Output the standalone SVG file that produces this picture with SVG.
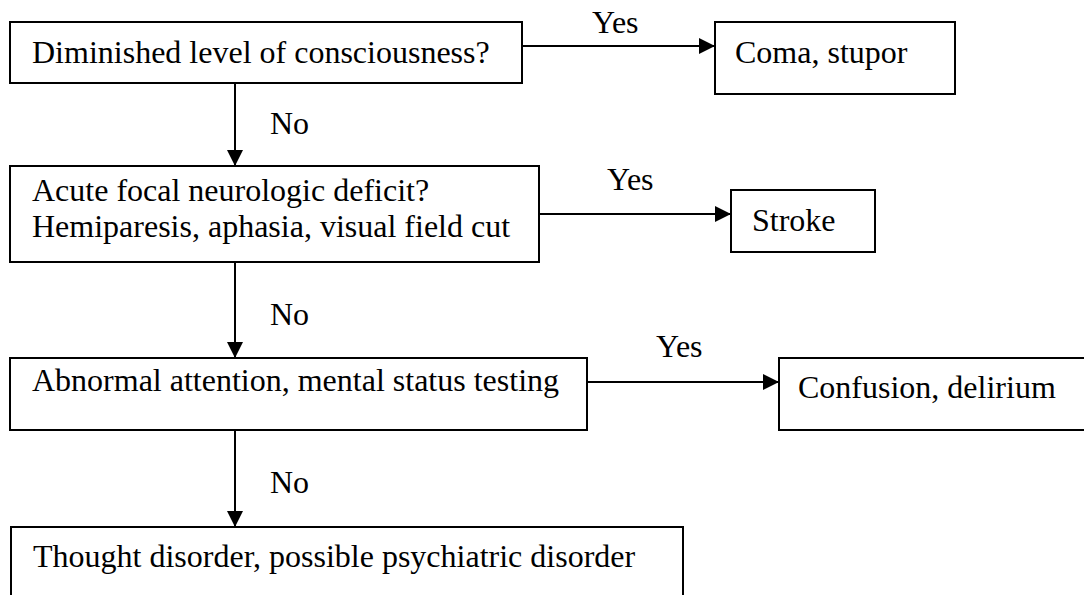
<svg xmlns="http://www.w3.org/2000/svg" width="1084" height="595" viewBox="0 0 1084 595">
<style>
  .box { fill: #ffffff; stroke: #000000; stroke-width: 2; }
  .txt { font-family: "Liberation Serif", "Times New Roman", serif; font-size: 32px; fill: #000000; }
  .conn { stroke: #000000; stroke-width: 2; fill: none; }
</style>
<defs>
  <marker id="arrow" markerUnits="userSpaceOnUse" markerWidth="16" markerHeight="16" refX="16" refY="8" orient="auto">
    <path d="M0,0 L16,8 L0,16 z" fill="#000000"/>
  </marker>
</defs>
<rect width="1084" height="595" fill="#ffffff"/>

<g id="connectors">
  <line class="conn" x1="522" y1="46" x2="715" y2="46" marker-end="url(#arrow)"/>
  <text class="txt" x="592" y="33">Yes</text>
  <line class="conn" x1="235" y1="83" x2="235" y2="166" marker-end="url(#arrow)"/>
  <text class="txt" x="270" y="134">No</text>
  <line class="conn" x1="539" y1="214" x2="731" y2="214" marker-end="url(#arrow)"/>
  <text class="txt" x="607" y="190">Yes</text>
  <line class="conn" x1="235" y1="262" x2="235" y2="358" marker-end="url(#arrow)"/>
  <text class="txt" x="270" y="325">No</text>
  <line class="conn" x1="587" y1="382" x2="779" y2="382" marker-end="url(#arrow)"/>
  <text class="txt" x="656" y="357">Yes</text>
  <line class="conn" x1="235" y1="430" x2="235" y2="527" marker-end="url(#arrow)"/>
  <text class="txt" x="270" y="493">No</text>
</g>

<g id="node-consciousness">
  <rect class="box" x="10" y="22" width="512" height="61"/>
  <text class="txt" x="32" y="63">Diminished level of consciousness?</text>
</g>
<g id="node-coma">
  <rect class="box" x="715" y="22" width="240" height="72"/>
  <text class="txt" x="735" y="63">Coma, stupor</text>
</g>
<g id="node-focal">
  <rect class="box" x="10" y="166" width="529" height="96"/>
  <text class="txt" x="32" y="201">Acute focal neurologic deficit?</text>
  <text class="txt" x="32" y="237">Hemiparesis, aphasia, visual field cut</text>
</g>
<g id="node-stroke">
  <rect class="box" x="731" y="190" width="144" height="62"/>
  <text class="txt" x="752" y="231">Stroke</text>
</g>
<g id="node-attention">
  <rect class="box" x="10" y="358" width="577" height="72"/>
  <text class="txt" x="32" y="391">Abnormal attention, mental status testing</text>
</g>
<g id="node-confusion">
  <rect class="box" x="779" y="358" width="320" height="72"/>
  <text class="txt" x="798" y="398">Confusion, delirium</text>
</g>
<g id="node-thought">
  <rect class="box" x="11" y="527" width="672" height="90"/>
  <text class="txt" x="33" y="567">Thought disorder, possible psychiatric disorder</text>
</g>
</svg>
